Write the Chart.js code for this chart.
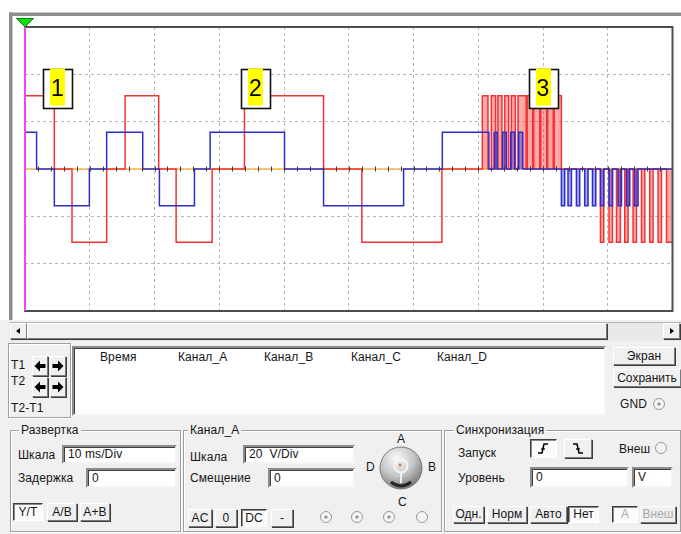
<!DOCTYPE html>
<html lang="ru">
<head>
<meta charset="utf-8">
<title>Осциллограф</title>
<script src="https://cdn.jsdelivr.net/npm/chart.js@4.4.1/dist/chart.umd.min.js"></script>
<style>
  html, body { margin:0; padding:0; }
  body { width:681px; height:534px; position:relative; overflow:hidden; background:#fff;
         font-family:"Liberation Sans", Arial, sans-serif; font-size:12px; letter-spacing:0.1px; color:#161616; }
  #scope { position:absolute; left:0; top:0; }
  .panel { position:absolute; left:0; top:320px; width:681px; height:214px; background:#f0f0f0; }
  .abs { position:absolute; }
  .t { position:absolute; white-space:nowrap; line-height:12px; }
  .raised { position:absolute; box-sizing:border-box; background:#f0f0f0;
            border:1px solid; border-color:#fff #7a7a7a #7a7a7a #fff;
            box-shadow:1px 1px 0 #3c3c3c; text-align:center; white-space:nowrap; }
  .sunk { position:absolute; box-sizing:border-box; background:#fbfbfb;
          border:1px solid; border-color:#3c3c3c #fff #fff #3c3c3c;
          box-shadow:inset 1px 1px 0 #8a8a8a; text-align:center; white-space:nowrap; }
  .field { position:absolute; box-sizing:border-box; background:#fff;
           border:2px solid; border-color:#8c8c8c #f4f4f4 #f4f4f4 #8c8c8c;
           box-shadow:inset 1px 1px 0 #404040; padding-left:4px; white-space:nowrap; }
  .grp { position:absolute; box-sizing:border-box; border:1px solid #a0a0a0;
         box-shadow:inset 1px 1px 0 #fff, 1px 1px 0 #fff; }
  .cap { position:absolute; background:#f0f0f0; padding:0 2px; line-height:12px; white-space:nowrap; }
  .dis { color:#a8a8a8; }
  svg { display:block; }
</style>
</head>
<body>
<canvas id="scope" width="681" height="320" style="width:681px;height:320px"></canvas>

<div class="panel"></div>

<!-- horizontal scroll bar under the screen -->
<div class="abs" style="left:9px;top:322px;width:672px;height:18px;background:#e9e9e9;border-top:1px solid #b4b4b4"></div>
<div class="raised" style="left:10px;top:323px;width:17px;height:16px"><svg width="15" height="14"><path d="M9 4 L5 7 L9 10 Z" fill="#000"/></svg></div>
<div class="raised" style="left:27px;top:323px;width:580px;height:16px"></div>
<div class="raised" style="left:663px;top:323px;width:17px;height:16px"><svg width="15" height="14"><path d="M6 4 L10 7 L6 10 Z" fill="#000"/></svg></div>

<!-- cursor readout block -->
<div class="grp" style="left:8px;top:343px;width:63px;height:75px"></div>
<div class="t" style="left:11px;top:359px">T1</div>
<div class="t" style="left:11px;top:375px">T2</div>
<div class="t" style="left:11px;top:402px">T2-T1</div>
<div class="raised" style="left:32px;top:356px;width:16px;height:20px"><svg width="14" height="18"><path d="M1.5 9 L7 3.5 L7 7 L12.5 7 L12.5 11 L7 11 L7 14.5 Z" fill="#000"/></svg></div>
<div class="raised" style="left:50px;top:356px;width:16px;height:20px"><svg width="14" height="18"><path d="M12.5 9 L7 3.5 L7 7 L1.5 7 L1.5 11 L7 11 L7 14.5 Z" fill="#000"/></svg></div>
<div class="raised" style="left:32px;top:377px;width:16px;height:20px"><svg width="14" height="18"><path d="M1.5 9 L7 3.5 L7 7 L12.5 7 L12.5 11 L7 11 L7 14.5 Z" fill="#000"/></svg></div>
<div class="raised" style="left:50px;top:377px;width:16px;height:20px"><svg width="14" height="18"><path d="M12.5 9 L7 3.5 L7 7 L1.5 7 L1.5 11 L7 11 L7 14.5 Z" fill="#000"/></svg></div>

<div class="field" style="left:72px;top:346px;width:534px;height:70px"></div>
<div class="t" style="left:100px;top:351px">Время</div>
<div class="t" style="left:178px;top:351px">Канал_A</div>
<div class="t" style="left:264px;top:351px">Канал_B</div>
<div class="t" style="left:351px;top:351px">Канал_C</div>
<div class="t" style="left:437px;top:351px">Канал_D</div>

<div class="raised" style="left:613px;top:347px;width:62px;height:18px;line-height:16px">Экран</div>
<div class="raised" style="left:613px;top:369px;width:68px;height:18px;line-height:16px;letter-spacing:0">Сохранить</div>
<div class="t" style="left:620px;top:398px">GND</div>
<div class="abs" style="left:652px;top:397px"><svg width="14" height="14"><circle cx="7" cy="7" r="5.5" fill="#f4f4f4" stroke="#9a9a9a"/><circle cx="7" cy="7" r="1.6" fill="#8a8a8a"/></svg></div>

<!-- time base -->
<div class="grp" style="left:10px;top:430px;width:171px;height:102px"></div>
<div class="cap" style="left:19px;top:424px">Развертка</div>
<div class="t" style="left:18px;top:449px">Шкала</div>
<div class="field" style="left:62px;top:445px;width:115px;height:19px;line-height:15px">10 ms/Div</div>
<div class="t" style="left:18px;top:472px">Задержка</div>
<div class="field" style="left:86px;top:468px;width:91px;height:20px;line-height:16px">0</div>
<div class="sunk" style="left:13px;top:503px;width:30px;height:18px;line-height:16px">Y/T</div>
<div class="raised" style="left:47px;top:503px;width:30px;height:18px;line-height:16px">A/B</div>
<div class="raised" style="left:80px;top:503px;width:30px;height:18px;line-height:16px">A+B</div>

<!-- channel settings -->
<div class="grp" style="left:183px;top:430px;width:259px;height:102px"></div>
<div class="cap" style="left:188px;top:424px">Канал_A</div>
<div class="t" style="left:190px;top:451px">Шкала</div>
<div class="field" style="left:243px;top:445px;width:112px;height:19px;line-height:15px">20&nbsp; V/Div</div>
<div class="t" style="left:190px;top:472px">Смещение</div>
<div class="field" style="left:268px;top:468px;width:87px;height:20px;line-height:16px">0</div>
<div class="abs" style="left:378px;top:445px">
  <svg width="46" height="46">
    <defs>
      <radialGradient id="knobShade" cx="40%" cy="28%" r="75%">
        <stop offset="0" stop-color="#fbfbfb"/>
        <stop offset="0.55" stop-color="#c4c4c4"/>
        <stop offset="1" stop-color="#767676"/>
      </radialGradient>
    </defs>
    <circle cx="23" cy="23" r="21" fill="url(#knobShade)" stroke="#7c7c7c"/>
    <circle cx="23" cy="21" r="6.5" fill="none" stroke="#f4f4f4" stroke-width="2.2"/>
    <circle cx="22" cy="20" r="1.4" fill="#c87a3c"/>
    <path d="M23 27.5 V38" stroke="#f0f0f0" stroke-width="2"/>
    <path d="M13 37 Q23 45 33 37" stroke="#262626" stroke-width="3" fill="none"/>
  </svg>
</div>
<div class="t" style="left:397px;top:433px;font-size:12px">A</div>
<div class="t" style="left:428px;top:461px;font-size:12px">B</div>
<div class="t" style="left:398px;top:496px;font-size:12px">C</div>
<div class="t" style="left:366px;top:461px;font-size:12px">D</div>
<div class="raised" style="left:188px;top:509px;width:24px;height:18px;line-height:16px">AC</div>
<div class="raised" style="left:215px;top:509px;width:22px;height:18px;line-height:16px">0</div>
<div class="sunk" style="left:241px;top:509px;width:26px;height:18px;line-height:16px">DC</div>
<div class="raised" style="left:271px;top:509px;width:22px;height:18px;line-height:16px">-</div>
<div class="abs" style="left:319px;top:510px"><svg width="14" height="14"><circle cx="7" cy="7" r="5.5" fill="#f4f4f4" stroke="#9a9a9a"/><circle cx="7" cy="7" r="1.6" fill="#8a8a8a"/></svg></div>
<div class="abs" style="left:350px;top:510px"><svg width="14" height="14"><circle cx="7" cy="7" r="5.5" fill="#f4f4f4" stroke="#9a9a9a"/><circle cx="7" cy="7" r="1.6" fill="#8a8a8a"/></svg></div>
<div class="abs" style="left:382px;top:510px"><svg width="14" height="14"><circle cx="7" cy="7" r="5.5" fill="#f4f4f4" stroke="#9a9a9a"/><circle cx="7" cy="7" r="1.6" fill="#8a8a8a"/></svg></div>
<div class="abs" style="left:415px;top:510px"><svg width="14" height="14"><circle cx="7" cy="7" r="5.5" fill="#f4f4f4" stroke="#9a9a9a"/></svg></div>

<!-- trigger -->
<div class="grp" style="left:444px;top:430px;width:237px;height:102px"></div>
<div class="cap" style="left:454px;top:424px">Синхронизация</div>
<div class="t" style="left:458px;top:447px">Запуск</div>
<div class="sunk" style="left:530px;top:439px;width:27px;height:19px"><svg width="25" height="17"><path d="M7 13 H11 L13 4 H17" stroke="#000" stroke-width="1.5" fill="none"/><path d="M10 9 H14" stroke="#000" stroke-width="1.2"/></svg></div>
<div class="raised" style="left:564px;top:439px;width:28px;height:19px"><svg width="26" height="17"><path d="M8 4 H12 L14 13 H18" stroke="#000" stroke-width="1.5" fill="none"/><path d="M11 9 H15" stroke="#000" stroke-width="1.2"/></svg></div>
<div class="t" style="left:619px;top:443px">Внеш</div>
<div class="abs" style="left:654px;top:441px"><svg width="14" height="14"><circle cx="7" cy="7" r="5.5" fill="#f4f4f4" stroke="#9a9a9a"/></svg></div>
<div class="t" style="left:458px;top:472px">Уровень</div>
<div class="field" style="left:530px;top:467px;width:99px;height:21px;line-height:17px">0</div>
<div class="field" style="left:632px;top:467px;width:41px;height:21px;line-height:17px">V</div>
<div class="raised" style="left:453px;top:506px;width:31px;height:17px;line-height:15px;letter-spacing:0">Одн.</div>
<div class="raised" style="left:487px;top:506px;width:40px;height:17px;line-height:15px">Норм</div>
<div class="raised" style="left:530px;top:506px;width:37px;height:17px;line-height:15px">Авто</div>
<div class="sunk" style="left:568px;top:506px;width:31px;height:17px;line-height:15px">Нет</div>
<div class="sunk dis" style="left:612px;top:506px;width:26px;height:17px;line-height:15px">A</div>
<div class="raised dis" style="left:640px;top:506px;width:36px;height:17px;line-height:15px;letter-spacing:0">Внеш</div>

<script>
// Time base and vertical scale of the screen
const timeDivMs = 10;          // 10 ms/Div
const voltDiv = 20;            // 20 V/Div
const timeSpanMs = 100;        // 10 divisions across
const voltSpan = 60;           // ±3 divisions

// Channel A (red): switching instants, ms, and the level after each switch, V
const chanATimes = [
  0, 4.53, 7.26, 12.61, 15.46, 20.65, 23.34, 28.90, 33.89, 46.11, 52.02, 64.39,
  70.63, 71.50, 72.02, 72.69, 73.04, 73.66, 74.08, 74.70, 75.12, 75.73,
  76.14, 77.40, 77.56, 78.41, 78.56, 79.49, 79.65, 80.57, 80.73, 81.58, 81.73, 82.84,
  88.87, 89.38, 90.20, 90.73, 91.35, 91.96, 92.63, 93.14, 93.91, 94.44,
  95.21, 95.72, 96.49, 97.00, 97.77, 98.30, 99.07, 100
];
const chanALevels = [
  31, 0, -31, 0, 31, 0, -31, 0, 31, 0, -31, 0,
  31, 0, 31, 0, 31, 0, 31, 0, 31, 0,
  31, 0, 31, 0, 31, 0, 31, 0, 31, 0, 31, 0,
  -31, 0, -31, 0, -31, 0, -31, 0, -31, 0,
  -31, 0, -31, 0, -31, 0, -31, -31
];

// Channel B (blue): switching instants, ms, and the level after each switch, V
const chanBTimes = [
  0, 1.79, 4.53, 9.94, 12.61, 18.18, 20.76, 26.17, 28.59, 40.08, 46.11, 58.47, 64.45, 71.65,
  72.46, 72.92, 73.77, 74.34, 75.01, 75.63, 76.24, 76.86,
  82.84, 83.35, 83.86, 84.39, 85.16, 85.67, 86.44, 86.96, 87.64, 88.15,
  88.87, 89.38, 90.20, 90.73, 91.59, 92.12, 92.89, 93.40, 94.13, 94.68, 100
];
const chanBLevels = [
  15.5, 0, -15.5, 0, 15.5, 0, -15.5, 0, 15.5, 0, -15.5, 0, 15.5, 0,
  15.5, 0, 15.5, 0, 15.5, 0, 15.5, 0,
  -15.5, 0, -15.5, 0, -15.5, 0, -15.5, 0, -15.5, 0,
  -15.5, 0, -15.5, 0, -15.5, 0, -15.5, 0, -15.5, 0, 0
];

// Channel C (orange): idle at zero
const chanCTimes = [0, 100];
const chanCLevels = [0, 0];

// Where the PWM bursts begin; the pulses after these instants are shaded
const chanABurstFrom = 70.5;
const chanBBurstFrom = 72.0;

// Numbered markers over the traces
const markerLabels = ['1', '2', '3'];
const markerTimes = [5.0, 35.6, 80.0];
const markerLevel = 34;

// Cursor T1 position, ms
const cursorT1 = 0;

const toPoints = (ts, vs) => ts.map((t, i) => ({ x: t, y: vs[i] }));

const scopeDecor = {
  id: 'scopeDecor',
  beforeDraw(chart) {
    const { ctx, width, height } = chart;
    ctx.save();
    ctx.fillStyle = '#ffffff';
    ctx.fillRect(0, 0, width, height);
    ctx.fillStyle = '#8e8e8e';
    ctx.fillRect(9, 12.5, width - 9, 3.5);
    ctx.fillRect(9, 12.5, 3.5, height - 12.5);
    ctx.restore();
  },
  afterDatasetsDraw(chart) {
    const { ctx, chartArea: a, scales: { x, y } } = chart;
    ctx.save();

    // minor ticks along the centre axis, five per division
    const y0 = y.getPixelForValue(0);
    ctx.strokeStyle = '#3a3a3a';
    ctx.lineWidth = 1;
    const perDiv = 5;
    for (let i = 1; i < (timeSpanMs / timeDivMs) * perDiv; i++) {
      const px = Math.round(x.getPixelForValue(i * timeDivMs / perDiv)) + 0.5;
      ctx.beginPath();
      ctx.moveTo(px, y0 - 2.5);
      ctx.lineTo(px, y0 + 2.5);
      ctx.stroke();
    }

    // numbered markers
    const bw = 29, bh = 39;
    markerLabels.forEach((label, i) => {
      const cx = x.getPixelForValue(markerTimes[i]);
      const cy = y.getPixelForValue(markerLevel);
      const l = Math.round(cx - bw / 2) + 0.5, t = Math.round(cy - bh / 2) + 0.5;
      ctx.fillStyle = '#ffffff';
      ctx.fillRect(l, t, bw, bh);
      ctx.strokeStyle = '#111111';
      ctx.lineWidth = 1.6;
      ctx.strokeRect(l, t, bw, bh);
      ctx.fillStyle = '#ffff00';
      ctx.fillRect(Math.round(cx - 7.5), t - 1, 15, bh - 2);
      ctx.fillStyle = '#000000';
      ctx.font = '23px "Liberation Sans", Arial, sans-serif';
      ctx.textAlign = 'center';
      ctx.textBaseline = 'middle';
      ctx.fillText(label, cx, cy + 1);
    });

    // screen border
    ctx.strokeStyle = '#4e4e4e';
    ctx.lineWidth = 2;
    ctx.strokeRect(a.left, a.top, a.right - a.left, a.bottom - a.top);

    // cursor T1
    const cx = x.getPixelForValue(cursorT1);
    ctx.strokeStyle = '#f046f0';
    ctx.lineWidth = 2;
    ctx.beginPath();
    ctx.moveTo(cx, a.top);
    ctx.lineTo(cx, a.bottom);
    ctx.stroke();
    ctx.fillStyle = '#14dc14';
    ctx.strokeStyle = '#0a8a0a';
    ctx.lineWidth = 1;
    ctx.beginPath();
    ctx.moveTo(cx - 8.5, a.top - 8.5);
    ctx.lineTo(cx + 8.5, a.top - 8.5);
    ctx.lineTo(cx, a.top);
    ctx.closePath();
    ctx.fill();
    ctx.stroke();
    ctx.restore();
  }
};

new Chart(document.getElementById('scope'), {
  type: 'line',
  data: {
    datasets: [
      {
        label: 'Канал_B',
        data: toPoints(chanBTimes, chanBLevels),
        borderColor: 'rgb(44,44,205)',
        borderWidth: 1.5,
        backgroundColor: 'rgba(0,0,0,0)',
        stepped: 'before',
        fill: 'origin',
        segment: {
          backgroundColor: c => c.p0.parsed.x >= chanBBurstFrom ? 'rgba(40,40,210,0.40)' : 'rgba(0,0,0,0)'
        }
      },
      {
        label: 'Канал_A',
        data: toPoints(chanATimes, chanALevels),
        borderColor: 'rgb(244,50,50)',
        borderWidth: 1.5,
        backgroundColor: 'rgba(0,0,0,0)',
        stepped: 'before',
        fill: 'origin',
        segment: {
          backgroundColor: c => c.p0.parsed.x >= chanABurstFrom ? 'rgba(255,40,40,0.40)' : 'rgba(0,0,0,0)'
        }
      },
      {
        label: 'Канал_C',
        data: toPoints(chanCTimes, chanCLevels),
        borderColor: 'rgb(246,184,70)',
        borderWidth: 1.6,
        fill: false
      }
    ]
  },
  options: {
    responsive: false,
    animation: false,
    devicePixelRatio: 1,
    layout: { padding: { left: 25, top: 27, right: 8.5, bottom: 9 } },
    elements: { point: { radius: 0, hitRadius: 0 }, line: { tension: 0 } },
    plugins: { legend: { display: false }, tooltip: { enabled: false } },
    scales: {
      x: {
        type: 'linear', min: 0, max: timeSpanMs,
        ticks: { display: false, stepSize: timeDivMs },
        grid: { color: '#b6b6b6', lineWidth: 1, drawTicks: false },
        border: { display: false, dash: [3, 3] }
      },
      y: {
        type: 'linear', min: -voltSpan, max: voltSpan,
        ticks: { display: false, stepSize: voltDiv },
        grid: { color: '#b6b6b6', lineWidth: 1, drawTicks: false },
        border: { display: false, dash: [3, 3] }
      }
    }
  },
  plugins: [scopeDecor]
});
</script>
</body>
</html>
